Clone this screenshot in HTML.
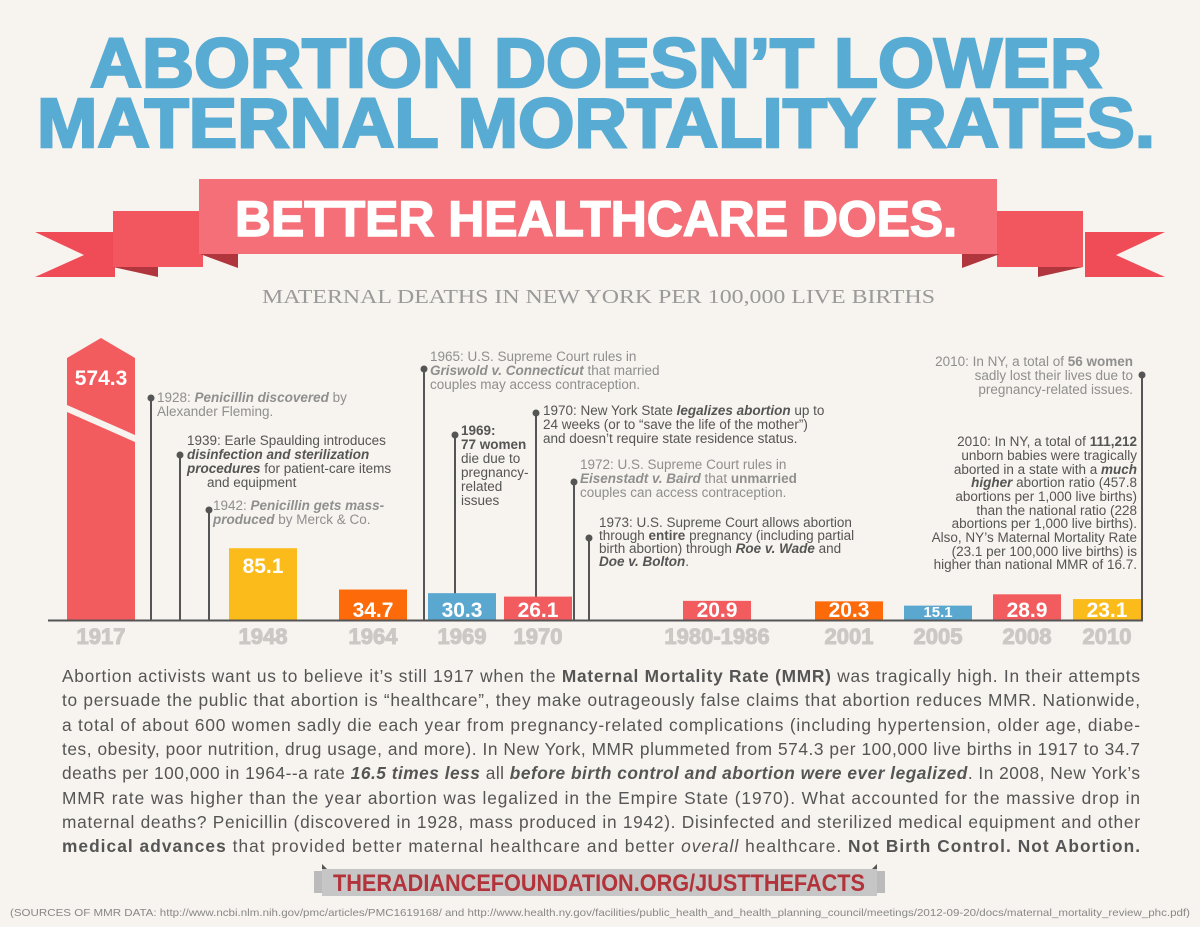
<!DOCTYPE html>
<html><head><meta charset="utf-8"><style>
html,body{margin:0;padding:0;background:#f7f3ee;}
svg{display:block;font-family:"Liberation Sans",sans-serif;}
.g{fill:#8f8f8f;font-size:13.5px;}
.d{fill:#555;font-size:13.5px;}
.p{fill:#555;font-size:17.3px;}
</style></head><body>
<svg id="chart" width="1200" height="927" viewBox="0 0 1200 927">
<rect width="1200" height="927" fill="#f7f3ee"/>
<g fill="#58abd3" stroke="#58abd3" stroke-width="2.5" font-weight="bold" font-size="70">
<text x="90" y="87" textLength="1012" lengthAdjust="spacingAndGlyphs">ABORTION DOESN’T LOWER</text>
<text x="37" y="147" textLength="1118" lengthAdjust="spacingAndGlyphs">MATERNAL MORTALITY RATES.</text>
</g>
<g>
<polygon points="35,232 115,232 115,277 35,277 84,255" fill="#f04c57"/>
<polygon points="1165,232 1085,232 1085,277 1165,277 1116,255" fill="#f04c57"/>
<rect x="113" y="211" width="90" height="56" fill="#f2565f"/>
<rect x="997" y="211" width="86" height="56" fill="#f2565f"/>
<polygon points="200,254 238,254 238,268" fill="#b0353d"/>
<polygon points="1000,254 962,254 962,268" fill="#b0353d"/>
<polygon points="113,267 158,267 158,277" fill="#b0353d"/>
<polygon points="1083,267 1038,267 1038,277" fill="#b0353d"/>
<rect x="199" y="179" width="798" height="75" fill="#f46f78"/>
<text x="235" y="236" textLength="722" lengthAdjust="spacingAndGlyphs" font-size="50" font-weight="bold" fill="#fff" stroke="#fff" stroke-width="1.5">BETTER HEALTHCARE DOES.</text>
</g>
<text x="262" y="303" textLength="673" lengthAdjust="spacingAndGlyphs" font-family="Liberation Serif, serif" font-size="20" fill="#9a9a9a">MATERNAL DEATHS IN NEW YORK PER 100,000 LIVE BIRTHS</text>

<g id="pins"></g>
<g id="bars"></g>
<line x1="48" y1="620.5" x2="1143" y2="620.5" stroke="#555" stroke-width="2"/>
<g id="labels"></g>

<g>
<text class="g" x="157" y="402">1928: <tspan font-style="italic" font-weight="bold">Penicillin discovered</tspan> by</text>
<text class="g" x="157" y="416">Alexander Fleming.</text>
<text class="d" x="187" y="445">1939: Earle Spaulding introduces</text>
<text class="d" x="187" y="459" font-style="italic" font-weight="bold">disinfection and sterilization</text>
<text class="d" x="187" y="473"><tspan font-style="italic" font-weight="bold">procedures</tspan> for patient-care items</text>
<text class="d" x="207" y="487">and equipment</text>
<text class="g" x="213" y="510">1942: <tspan font-style="italic" font-weight="bold">Penicillin gets mass-</tspan></text>
<text class="g" x="213" y="524"><tspan font-style="italic" font-weight="bold">produced</tspan> by Merck &amp; Co.</text>
<text class="g" x="430" y="361">1965: U.S. Supreme Court rules in</text>
<text class="g" x="430" y="375"><tspan font-style="italic" font-weight="bold">Griswold v. Connecticut</tspan> that married</text>
<text class="g" x="430" y="389">couples may access contraception.</text>
<text class="d" x="461" y="435" font-weight="bold">1969:</text>
<text class="d" x="461" y="449" font-weight="bold">77 women</text>
<text class="d" x="461" y="463">die due to</text>
<text class="d" x="461" y="477">pregnancy-</text>
<text class="d" x="461" y="491">related</text>
<text class="d" x="461" y="505">issues</text>
<text class="d" x="543" y="415">1970: New York State <tspan font-style="italic" font-weight="bold">legalizes abortion</tspan> up to</text>
<text class="d" x="543" y="429">24 weeks (or to “save the life of the mother”)</text>
<text class="d" x="543" y="443">and doesn’t require state residence status.</text>
<text class="g" x="580" y="469">1972: U.S. Supreme Court rules in</text>
<text class="g" x="580" y="483"><tspan font-style="italic" font-weight="bold">Eisenstadt v. Baird</tspan> that <tspan font-weight="bold">unmarried</tspan></text>
<text class="g" x="580" y="497">couples can access contraception.</text>
<text class="d" x="599" y="527">1973: U.S. Supreme Court allows abortion</text>
<text class="d" x="599" y="540">through <tspan font-weight="bold">entire</tspan> pregnancy (including partial</text>
<text class="d" x="599" y="553">birth abortion) through <tspan font-style="italic" font-weight="bold">Roe v. Wade</tspan> and</text>
<text class="d" x="599" y="566" font-style="italic" font-weight="bold">Doe v. Bolton<tspan font-style="normal" font-weight="normal">.</tspan></text>
<g text-anchor="end">
<text class="g" x="1133" y="366">2010: In NY, a total of <tspan font-weight="bold">56 women</tspan></text>
<text class="g" x="1133" y="380">sadly lost their lives due to</text>
<text class="g" x="1133" y="394">pregnancy-related issues.</text>
<text class="d" x="1137" y="446">2010: In NY, a total of <tspan font-weight="bold">111,212</tspan></text>
<text class="d" x="1137" y="460">unborn babies were tragically</text>
<text class="d" x="1137" y="474">aborted in a state with a <tspan font-style="italic" font-weight="bold">much</tspan></text>
<text class="d" x="1137" y="487"><tspan font-style="italic" font-weight="bold">higher</tspan> abortion ratio (457.8</text>
<text class="d" x="1137" y="501">abortions per 1,000 live births)</text>
<text class="d" x="1137" y="515">than the national ratio (228</text>
<text class="d" x="1137" y="528">abortions per 1,000 live births).</text>
<text class="d" x="1137" y="542">Also, NY’s Maternal Mortality Rate</text>
<text class="d" x="1137" y="556">(23.1 per 100,000 live births) is</text>
<text class="d" x="1137" y="569">higher than national MMR of 16.7.</text>
</g>
</g>

<g>
<text class="p" x="62" y="682" textLength="1078" lengthAdjust="spacing">Abortion activists want us to believe it’s still 1917 when the <tspan font-weight="bold">Maternal Mortality Rate (MMR)</tspan> was tragically high. In their attempts</text>
<text class="p" x="62" y="706" textLength="1078" lengthAdjust="spacing">to persuade the public that abortion is “healthcare”, they make outrageously false claims that abortion reduces MMR. Nationwide,</text>
<text class="p" x="62" y="731" textLength="1078" lengthAdjust="spacing">a total of about 600 women sadly die each year from pregnancy-related complications (including hypertension, older age, diabe-</text>
<text class="p" x="62" y="755" textLength="1078" lengthAdjust="spacing">tes, obesity, poor nutrition, drug usage, and more). In New York, MMR plummeted from 574.3 per 100,000 live births in 1917 to 34.7</text>
<text class="p" x="62" y="779" textLength="1078" lengthAdjust="spacing">deaths per 100,000 in 1964--a rate <tspan font-weight="bold" font-style="italic">16.5 times less</tspan> all <tspan font-weight="bold" font-style="italic">before birth control and abortion were ever legalized</tspan>. In 2008, New York’s</text>
<text class="p" x="62" y="804" textLength="1078" lengthAdjust="spacing">MMR rate was higher than the year abortion was legalized in the Empire State (1970). What accounted for the massive drop in</text>
<text class="p" x="62" y="828" textLength="1078" lengthAdjust="spacing">maternal deaths? Penicillin (discovered in 1928, mass produced in 1942). Disinfected and sterilized medical equipment and other</text>
<text class="p" x="62" y="852" textLength="1078" lengthAdjust="spacing"><tspan font-weight="bold">medical advances</tspan> that provided better maternal healthcare and better <tspan font-style="italic">overall</tspan> healthcare. <tspan font-weight="bold">Not Birth Control. Not Abortion.</tspan></text>
</g>

<g>
<polygon points="322,864 322,870 328,870" fill="#555"/>
<polygon points="877,864 877,870 871,870" fill="#555"/>
<rect x="322" y="869" width="555" height="27" fill="#c6c6c6"/>
<rect x="314" y="871" width="8" height="22" fill="#bbb"/>
<rect x="877" y="871" width="8" height="22" fill="#bbb"/>
<text x="333" y="891" textLength="532" lengthAdjust="spacingAndGlyphs" font-size="24" font-weight="bold" fill="#b2333a">THERADIANCEFOUNDATION.ORG/JUSTTHEFACTS</text>
</g>
<text x="10" y="916" textLength="1180" lengthAdjust="spacingAndGlyphs" font-size="10.5" fill="#888">(SOURCES OF MMR DATA:  http://www.ncbi.nlm.nih.gov/pmc/articles/PMC1619168/  and   http://www.health.ny.gov/facilities/public_health_and_health_planning_council/meetings/2012-09-20/docs/maternal_mortality_review_phc.pdf)</text>
</svg>
<script>
const categories = ["1917","1948","1964","1969","1970","1980-1986","2001","2005","2008","2010"];
const mmrValues = [574.3, 85.1, 34.7, 30.3, 26.1, 20.9, 20.3, 15.1, 28.9, 23.1];
const valueLabels = ["574.3","85.1","34.7","30.3","26.1","20.9","20.3","15.1","28.9","23.1"];
const barColors = ["#f25c5f","#fbbb1b","#fd6a09","#5aa8d0","#f25c5f","#f25c5f","#fd6a09","#5aa8d0","#f25c5f","#fbbb1b"];
const slotCenters = [101,263,373,462,538,717,849,938,1027,1107];
const pinX = [151,180,209,424,455,536,574,589,1142];
const pinDotY = [398,455,510,369,435,413,482,538,375];

const NS = "http://www.w3.org/2000/svg";
const BASE = 620, BW = 68, MAXH = 282;
function yScale(v){ return BASE - (2 + 0.82 * v); }
function mk(tag, attrs, parent){ const e=document.createElementNS(NS,tag); for(const k in attrs) e.setAttribute(k,attrs[k]); parent.appendChild(e); return e; }

const pins = document.getElementById('pins');
pinX.forEach((x,i)=>{
  const l = mk('line',{x1:x,y1:pinDotY[i],x2:x,y2:BASE,stroke:'#555','stroke-width':2},pins);
  
  
  const c = mk('circle',{cx:x,cy:pinDotY[i],r:3.5,fill:'#555'},pins);
  
  
});

const bars = document.getElementById('bars');
const labels = document.getElementById('labels');
categories.forEach((cat,i)=>{
  const cx = slotCenters[i], x0 = cx - BW/2;
  let top = yScale(mmrValues[i]);
  let el;
  if (BASE - top > MAXH) {
    top = BASE - MAXH;
    el = mk('polygon',{points:`${x0},${top+20} ${cx},${top} ${x0+BW},${top+20} ${x0+BW},${BASE} ${x0},${BASE}`,fill:barColors[i]},bars);
    const br = mk('polygon',{points:`${x0},${top+67} ${x0+BW},${top+97} ${x0+BW},${top+104} ${x0},${top+74}`,fill:'#f7f3ee'},bars);
    
    
  } else {
    el = mk('rect',{x:x0,y:top,width:BW,height:BASE-top,fill:barColors[i]},bars);
  }
  
  
  const big = BASE - top > 40;
  const ly = big ? (BASE - top > 200 ? top + 47 : top + 25) : BASE - 3;
  const fs = mmrValues[i] < 18 ? 15 : 21;
  const t = mk('text',{x:cx,y:ly,'text-anchor':'middle','font-size':fs,'font-weight':'bold',fill:'#fff'},bars);
  t.textContent = valueLabels[i];
  
  
  const yl = mk('text',{x:cx,y:644,'text-anchor':'middle','font-size':22,'font-weight':'bold',fill:'#cbc8c5',stroke:'#cbc8c5','stroke-width':1},labels);
  yl.textContent = cat;
  
  
});
</script>
</body></html>
